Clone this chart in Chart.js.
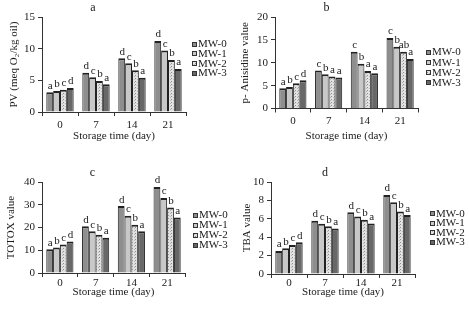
<!DOCTYPE html>
<html><head><meta charset="utf-8">
<script src="https://cdn.jsdelivr.net/npm/chart.js@4/dist/chart.umd.min.js"></script>
<style>
html,body{margin:0;padding:0;background:#fff;}
body{width:469px;height:310px;position:relative;overflow:hidden;}
canvas{position:absolute;}
</style></head><body>
<canvas id="ca" width="235" height="155" style="left:0;top:0"></canvas>
<canvas id="cb" width="234" height="155" style="left:235px;top:0"></canvas>
<canvas id="cc" width="235" height="155" style="left:0;top:155px"></canvas>
<canvas id="cd" width="234" height="155" style="left:235px;top:155px"></canvas>
<script>
// ---- data ----
const categories = ['0', '7', '14', '21'];
const seriesNames = ['MW-0', 'MW-1', 'MW-2', 'MW-3'];

// one array per series (MW-0..MW-3), values per storage day
const pvValues = [
  [3.1, 6.2, 8.5, 11.2],
  [3.3, 5.5, 7.7, 9.7],
  [3.5, 4.9, 6.6, 8.2],
  [3.8, 4.4, 5.4, 6.8]
];
const pvLetters = [['a','d','d','d'], ['b','c','c','c'], ['c','b','b','b'], ['d','a','a','a']];

const anisidineValues = [
  [4.4, 8.3, 12.4, 15.4],
  [4.7, 7.5, 9.8, 13.5],
  [5.5, 7.0, 8.2, 12.4],
  [6.2, 6.8, 7.7, 10.8]
];
const anisidineLetters = [['a','c','c','c'], ['b','b','b','b'], ['c','a','a','ab'], ['d','a','a','a']];

const totoxValues = [
  [10.4, 20.6, 29.4, 37.8],
  [11.2, 18.3, 25.2, 33.0],
  [12.5, 16.8, 21.2, 28.8],
  [13.8, 15.5, 18.3, 24.4]
];
const totoxLetters = [['a','d','d','d'], ['b','c','c','c'], ['c','b','b','b'], ['d','a','a','a']];

const tbaValues = [
  [2.5, 5.8, 6.7, 8.6],
  [2.8, 5.45, 6.25, 7.8],
  [3.15, 5.2, 5.9, 6.8],
  [3.45, 4.95, 5.5, 6.4]
];
const tbaLetters = [['a','d','d','d'], ['b','c','c','c'], ['c','b','b','b'], ['d','a','a','a']];

// ---- styling / layout ----
const FONT = "'Liberation Serif','Times New Roman',serif";
const INK = '#1a1a1a';

function makeFills(ctx) {
  const c = document.createElement('canvas');
  c.width = 3; c.height = 3;
  const x = c.getContext('2d');
  x.fillStyle = '#e2e2e2'; x.fillRect(0, 0, 3, 3);
  x.fillStyle = '#8c8c8c'; x.fillRect(0, 0, 1, 1);
  x.fillStyle = '#b4b4b4'; x.fillRect(2, 1, 1, 1);
  const dots = ctx.createPattern(c, 'repeat');
  return ['#8e8e8e', '#c8c8c8', dots, '#686868'];
}

const letterPlugin = {
  id: 'letters',
  afterDatasetsDraw(chart, args, opts) {
    const ctx = chart.ctx;
    ctx.save();
    ctx.font = '11px ' + FONT;
    ctx.fillStyle = INK;
    ctx.textAlign = 'center';
    ctx.textBaseline = 'bottom';
    chart.data.datasets.forEach((ds, i) => {
      chart.getDatasetMeta(i).data.forEach((el, j) => {
        ctx.fillText(opts.letters[i][j], el.x + 0.5, el.y - 1);
      });
    });
    ctx.restore();
  }
};

const legendPlugin = {
  id: 'sideLegend',
  afterDraw(chart, args, opts) {
    const ctx = chart.ctx;
    ctx.save();
    ctx.font = '11px ' + FONT;
    ctx.textBaseline = 'middle';
    ctx.textAlign = 'left';
    chart.data.datasets.forEach((ds, i) => {
      const y = opts.y + i * opts.dy;
      ctx.fillStyle = ds.backgroundColor;
      ctx.fillRect(opts.x, Math.round(y - 2.5), 5, 5);
      ctx.strokeStyle = '#333';
      ctx.lineWidth = 1;
      ctx.strokeRect(opts.x + 0.5, Math.round(y - 2.5) + 0.5, 4, 4);
      ctx.fillStyle = INK;
      ctx.fillText(ds.label, opts.x + 6, y + 0.5);
    });
    ctx.restore();
  }
};

function build(id, P, values, letters, yTitle, yMax, yStep, panelTitle) {
  const canvas = document.getElementById(id);
  const ctx = canvas.getContext('2d');
  const W = canvas.width, H = canvas.height;
  const fills = makeFills(ctx);
  new Chart(ctx, {
    type: 'bar',
    data: {
      labels: categories,
      datasets: seriesNames.map((n, i) => ({
        label: n,
        data: values[i],
        backgroundColor: fills[i],
        borderColor: '#222',
        borderWidth: {top: 2, left: 1, right: 1, bottom: 0},
        borderSkipped: 'bottom',
        categoryPercentage: 0.76,
        barPercentage: 1
      }))
    },
    options: {
      responsive: false,
      animation: false,
      devicePixelRatio: 1,
      events: [],
      layout: {padding: {left: 0, top: 0, right: W - P.chartR, bottom: H - P.xTitleY - 5.5}},
      plugins: {
        legend: {display: false},
        tooltip: {enabled: false},
        title: {
          display: true, text: panelTitle, color: INK,
          font: {family: FONT, size: 12, weight: 'normal', lineHeight: 1},
          padding: {top: P.titleY - 6, bottom: P.chartT - P.titleY - 6}
        },
        letters: {letters: letters},
        sideLegend: {x: P.legX, y: P.legY, dy: P.legDy}
      },
      scales: {
        x: {
          grid: {display: true, drawOnChartArea: false, drawTicks: true, tickLength: 4, color: '#333', offset: true},
          border: {color: '#333', width: 1},
          ticks: {color: INK, font: {family: FONT, size: 11, lineHeight: 1}, padding: Math.max(0, P.xLabY - P.chartB - 9.5), maxRotation: 0},
          title: {
            display: true, text: 'Storage time (day)', color: INK,
            font: {family: FONT, size: 11, lineHeight: 1},
            padding: {top: 0, bottom: 0}
          },
          afterFit(s) { s.height = P.xTitleY + 5.5 - P.chartB; }
        },
        y: {
          min: 0, max: yMax,
          ticks: {stepSize: yStep, color: INK, font: {family: FONT, size: 11, lineHeight: 1}, padding: 3},
          grid: {display: true, drawOnChartArea: false, drawTicks: true, tickLength: 4, color: '#333'},
          border: {color: '#333', width: 1},
          title: {
            display: true, text: yTitle, color: INK,
            font: {family: FONT, size: 11, lineHeight: 1},
            padding: {top: P.yTitleX - 5.5, bottom: 0}
          },
          afterFit(s) { s.width = P.chartL; }
        }
      }
    },
    plugins: [letterPlugin, legendPlugin]
  });
}

build('ca', {chartL: 42, chartR: 186, chartT: 17, chartB: 112, titleY: 8, xLabY: 125.5, xTitleY: 136.5, yTitleX: 14, legX: 192, legY: 44, legDy: 9.7},
  pvValues, pvLetters, 'PV (meq O\u2082/kg oil)', 15, 5, 'a');
build('cb', {chartL: 40, chartR: 183, chartT: 17, chartB: 108.5, titleY: 7.5, xLabY: 121.5, xTitleY: 136, yTitleX: 10.5, legX: 191, legY: 52, legDy: 10.3},
  anisidineValues, anisidineLetters, 'p- Anisidine value', 20, 5, 'b');
build('cc', {chartL: 42, chartR: 185, chartT: 27, chartB: 118, titleY: 18, xLabY: 128, xTitleY: 137, yTitleX: 11, legX: 193, legY: 60, legDy: 10},
  totoxValues, totoxLetters, 'TOTOX value', 40, 10, 'c');
build('cd', {chartL: 36, chartR: 180, chartT: 27, chartB: 119, titleY: 18, xLabY: 128.5, xTitleY: 137, yTitleX: 12.5, legX: 195, legY: 58.5, legDy: 9.5},
  tbaValues, tbaLetters, 'TBA value', 10, 2, 'd');
</script>
</body></html>
